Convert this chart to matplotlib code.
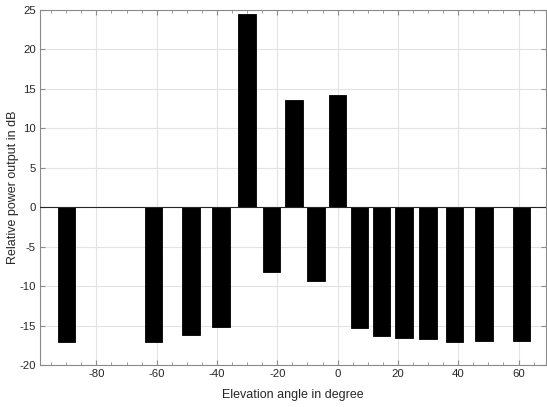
import matplotlib
matplotlib.use("Agg")
import matplotlib.pyplot as plt
from matplotlib.ticker import MultipleLocator

# elevation angles (deg) and relative power (dB)
angles = [-90.0, -61.0, -48.6, -38.7, -30.0, -22.0, -14.5, -7.2,
          0.0, 7.2, 14.5, 22.0, 30.0, 38.7, 48.6, 61.0]
power_db = [-17.1, -17.0, -16.2, -15.2, 24.4, -8.2, 13.6, -9.3,
            14.2, -15.3, -16.3, -16.5, -16.7, -17.0, -16.9, -16.9]
x_ticks = [-80, -60, -40, -20, 0, 20, 40, 60]
y_ticks = [-20, -15, -10, -5, 0, 5, 10, 15, 20, 25]

plt.rcParams["font.family"] = ["Liberation Sans", "DejaVu Sans"]
plt.rcParams["axes.unicode_minus"] = False

axis_col = "#8a8a8a"
text_col = "#262626"

fig = plt.figure(figsize=(5.47, 4.07), dpi=100)
ax = fig.add_axes([0.0731, 0.1025, 0.925, 0.874])

ax.bar(angles, power_db, width=5.75, color="black", edgecolor="black",
       linewidth=0.6, zorder=3)
ax.axhline(0, color="#262626", linewidth=0.8, zorder=4)

ax.set_xlim(-98.7, 69.1)
ax.set_ylim(-20, 25)
ax.set_xticks(x_ticks)
ax.set_yticks(y_ticks)
ax.xaxis.set_minor_locator(MultipleLocator(5))

ax.grid(True, which="major", color="#e3e3e3", linewidth=0.8, zorder=0)
ax.set_axisbelow(True)

for s in ax.spines.values():
    s.set_color(axis_col)
    s.set_linewidth(0.8)

ax.tick_params(which="both", direction="in", top=True, right=True,
               color=axis_col, labelcolor=text_col, labelsize=8.2)
ax.tick_params(which="major", length=3.5, width=0.8, pad=3)
ax.tick_params(which="minor", length=2, width=0.6)

ax.set_xlabel("Elevation angle in degree", fontsize=9, color=text_col,
              labelpad=7)
ax.set_ylabel("Relative power output in dB", fontsize=9, color=text_col,
              labelpad=0)

fig.savefig("out.png", dpi=100)
